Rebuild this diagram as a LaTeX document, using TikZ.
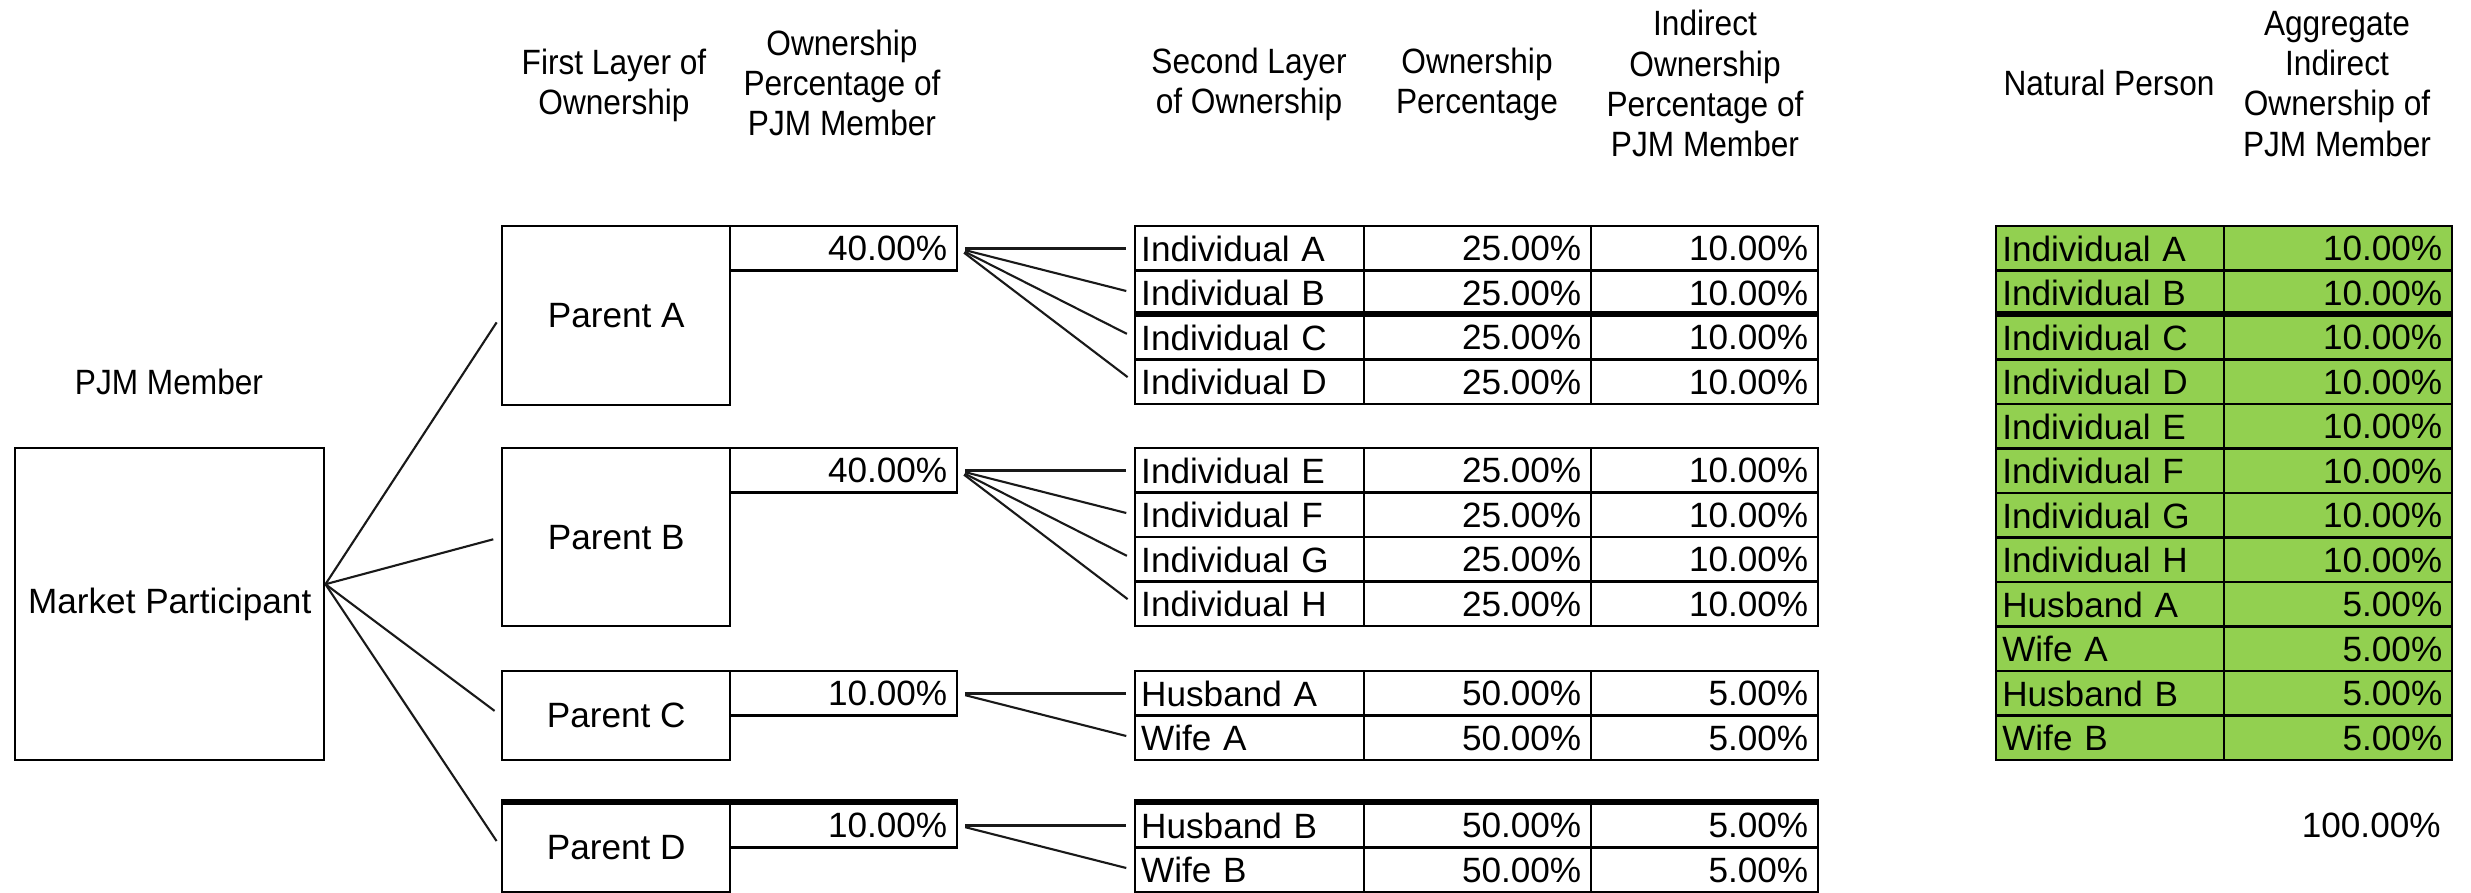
\documentclass[tikz,border=0pt]{standalone}
\usepackage{fontspec}
\setmainfont{Liberation Sans}
\newfontfamily\headfont[FakeStretch=0.9]{Liberation Sans}
\usepackage{tikz}
\usepackage{xcolor}
\definecolor{cellgreen}{RGB}{146,208,80}

\begin{document}
\begin{tikzpicture}[
    every node/.style={font=\fontsize{10}{11.4}\selectfont},
    head/.style={align=center, font=\headfont\fontsize{10}{11.4}\selectfont},
    parentbox/.style={draw, line width=0.7pt, anchor=north west, minimum width=2.28cm, inner sep=0pt},
    cell/.style={draw, line width=0.7pt, anchor=north west, minimum height=0.445cm, inner ysep=0pt},
    namecell/.style={cell, inner xsep=0.6mm, text width=2.17cm, align=left},
    pctcell/.style={cell, inner xsep=1mm, text width=2.07cm, align=right},
    gnamecell/.style={cell, fill=cellgreen, inner xsep=0.6mm, text width=2.16cm, align=left},
    gpctcell/.style={cell, fill=cellgreen, inner xsep=1mm, text width=2.08cm, align=right},
    heavy/.style={line width=1.6pt},
    link/.style={line width=0.6pt, black!90, shorten >=0.8mm},
    sublink/.style={link, shorten <=0.7mm}]
                \useasboundingbox (0,0) rectangle (24.71,-8.93);

                \node[head] (hmember) at (1.69,-3.82) {PJM Member};
                \node[head] (hfirst) at (6.14,-0.85) {First Layer of\\Ownership};
                \node[head] (hfirstpct) at (8.42,-0.83) {Ownership\\Percentage of\\PJM Member};
                \node[head] (hsecond) at (12.49,-0.84) {Second Layer\\of Ownership};
                \node[head] (hsecondpct) at (14.77,-0.84) {Ownership\\Percentage};
                \node[head] (hindirect) at (17.05,-0.835) {Indirect\\Ownership\\Percentage of\\PJM Member};
                \node[head] (hnatural) at (21.09,-0.83) {Natural Person};
                \node[head] (haggregate) at (23.37,-0.84) {Aggregate\\Indirect\\Ownership of\\PJM Member};

                \node[parentbox, minimum width=3.09cm, minimum height=3.12cm] (mp) at (0.14,-4.47) {Market Participant};

                \node[parentbox, minimum height=1.79cm] (pa) at (5.01,-2.25) {Parent A};
                \node[pctcell] (papct) at (7.29,-2.25) {40.00\%};
                \node[parentbox, minimum height=1.78cm] (pb) at (5.01,-4.47) {Parent B};
                \node[pctcell] (pbpct) at (7.29,-4.47) {40.00\%};
                \node[parentbox, minimum height=0.89cm] (pc) at (5.01,-6.70) {Parent C};
                \node[pctcell] (pcpct) at (7.29,-6.70) {10.00\%};
                \node[parentbox, minimum height=0.89cm] (pd) at (5.01,-8.02) {Parent D};
                \node[pctcell] (pdpct) at (7.29,-8.02) {10.00\%};

                \node[namecell] (ia) at (11.34,-2.25) {Individual A};
                \node[pctcell] (iapct) at (13.63,-2.25) {25.00\%};
                \node[pctcell] (iaind) at (15.90,-2.25) {10.00\%};
                \node[namecell] (ib) at (11.34,-2.695) {Individual B};
                \node[pctcell] (ibpct) at (13.63,-2.695) {25.00\%};
                \node[pctcell] (ibind) at (15.90,-2.695) {10.00\%};
                \node[namecell] (ic) at (11.34,-3.14) {Individual C};
                \node[pctcell] (icpct) at (13.63,-3.14) {25.00\%};
                \node[pctcell] (icind) at (15.90,-3.14) {10.00\%};
                \node[namecell] (id) at (11.34,-3.585) {Individual D};
                \node[pctcell] (idpct) at (13.63,-3.585) {25.00\%};
                \node[pctcell] (idind) at (15.90,-3.585) {10.00\%};

                \node[namecell] (ie) at (11.34,-4.47) {Individual E};
                \node[pctcell] (iepct) at (13.63,-4.47) {25.00\%};
                \node[pctcell] (ieind) at (15.90,-4.47) {10.00\%};
                \node[namecell] (if) at (11.34,-4.915) {Individual F};
                \node[pctcell] (ifpct) at (13.63,-4.915) {25.00\%};
                \node[pctcell] (ifind) at (15.90,-4.915) {10.00\%};
                \node[namecell] (ig) at (11.34,-5.36) {Individual G};
                \node[pctcell] (igpct) at (13.63,-5.36) {25.00\%};
                \node[pctcell] (igind) at (15.90,-5.36) {10.00\%};
                \node[namecell] (ih) at (11.34,-5.805) {Individual H};
                \node[pctcell] (ihpct) at (13.63,-5.805) {25.00\%};
                \node[pctcell] (ihind) at (15.90,-5.805) {10.00\%};

                \node[namecell] (ha) at (11.34,-6.70) {Husband A};
                \node[pctcell] (hapct) at (13.63,-6.70) {50.00\%};
                \node[pctcell] (haind) at (15.90,-6.70) {5.00\%};
                \node[namecell] (wa) at (11.34,-7.145) {Wife A};
                \node[pctcell] (wapct) at (13.63,-7.145) {50.00\%};
                \node[pctcell] (waind) at (15.90,-7.145) {5.00\%};

                \node[namecell] (hb) at (11.34,-8.02) {Husband B};
                \node[pctcell] (hbpct) at (13.63,-8.02) {50.00\%};
                \node[pctcell] (hbind) at (15.90,-8.02) {5.00\%};
                \node[namecell] (wb) at (11.34,-8.465) {Wife B};
                \node[pctcell] (wbpct) at (13.63,-8.465) {50.00\%};
                \node[pctcell] (wbind) at (15.90,-8.465) {5.00\%};

                \node[gnamecell] (gia) at (19.95,-2.25) {Individual A};
                \node[gpctcell] (giapct) at (22.23,-2.25) {10.00\%};
                \node[gnamecell] (gib) at (19.95,-2.695) {Individual B};
                \node[gpctcell] (gibpct) at (22.23,-2.695) {10.00\%};
                \node[gnamecell] (gic) at (19.95,-3.14) {Individual C};
                \node[gpctcell] (gicpct) at (22.23,-3.14) {10.00\%};
                \node[gnamecell] (gid) at (19.95,-3.585) {Individual D};
                \node[gpctcell] (gidpct) at (22.23,-3.585) {10.00\%};
                \node[gnamecell] (gie) at (19.95,-4.03) {Individual E};
                \node[gpctcell] (giepct) at (22.23,-4.03) {10.00\%};
                \node[gnamecell] (gif) at (19.95,-4.475) {Individual F};
                \node[gpctcell] (gifpct) at (22.23,-4.475) {10.00\%};
                \node[gnamecell] (gig) at (19.95,-4.92) {Individual G};
                \node[gpctcell] (gigpct) at (22.23,-4.92) {10.00\%};
                \node[gnamecell] (gih) at (19.95,-5.365) {Individual H};
                \node[gpctcell] (gihpct) at (22.23,-5.365) {10.00\%};
                \node[gnamecell] (gha) at (19.95,-5.81) {Husband A};
                \node[gpctcell] (ghapct) at (22.23,-5.81) {5.00\%};
                \node[gnamecell] (gwa) at (19.95,-6.255) {Wife A};
                \node[gpctcell] (gwapct) at (22.23,-6.255) {5.00\%};
                \node[gnamecell] (ghb) at (19.95,-6.70) {Husband B};
                \node[gpctcell] (ghbpct) at (22.23,-6.70) {5.00\%};
                \node[gnamecell] (gwb) at (19.95,-7.145) {Wife B};
                \node[gpctcell] (gwbpct) at (22.23,-7.145) {5.00\%};

                \node[anchor=east] (total) at (24.53,-8.25) {100.00\%};

                \draw[heavy] (ic.north west) -- (icind.north east);
                \draw[heavy] (gic.north west) -- (gicpct.north east);
                \draw[heavy] (pd.north west) -- (pdpct.north east);
                \draw[heavy] (hb.north west) -- (hbind.north east);

                \coordinate (mpout) at ([yshift=2mm]mp.east);
                \draw[link] (mpout) -- (pa.west);
                \draw[link] (mpout) -- (pb.west);
                \draw[link] (mpout) -- (pc.west);
                \draw[link] (mpout) -- (pd.west);

                \draw[sublink] (papct.east) -- (ia.west);
                \draw[sublink] (papct.east) -- (ib.west);
                \draw[sublink] (papct.east) -- (ic.west);
                \draw[sublink] (papct.east) -- (id.west);
                \draw[sublink] (pbpct.east) -- (ie.west);
                \draw[sublink] (pbpct.east) -- (if.west);
                \draw[sublink] (pbpct.east) -- (ig.west);
                \draw[sublink] (pbpct.east) -- (ih.west);
                \draw[sublink] (pcpct.east) -- (ha.west);
                \draw[sublink] (pcpct.east) -- (wa.west);
                \draw[sublink] (pdpct.east) -- (hb.west);
                \draw[sublink] (pdpct.east) -- (wb.west);
            \end{tikzpicture}
\end{document}
